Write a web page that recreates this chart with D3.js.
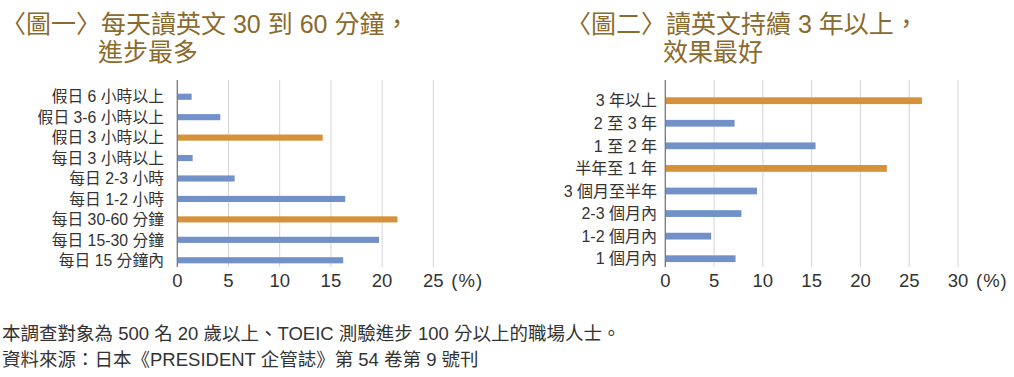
<!DOCTYPE html>
<html><head><meta charset="utf-8">
<script src="https://cdn.jsdelivr.net/npm/d3@7"></script>
<style>
html,body{margin:0;padding:0;background:#fff;}
svg{display:block;}
text{font-family:"Liberation Sans","Noto Sans CJK TC",sans-serif;}
</style></head><body>
<svg id="chart" width="1014" height="377"></svg>
<script>
const title1a = "〈圖一〉每天讀英文 30 到 60 分鐘，";
const title1b = "進步最多";
const cats1 = ["假日 6 小時以上","假日 3-6 小時以上","假日 3 小時以上","每日 3 小時以上","每日 2-3 小時","每日 1-2 小時","每日 30-60 分鐘","每日 15-30 分鐘","每日 15 分鐘內"];
const vals1 = [1.4, 4.2, 14.2, 1.5, 5.6, 16.4, 21.5, 19.7, 16.2];
const hi1 = [0,0,1,0,0,0,1,0,0];
const ticks1 = [0,5,10,15,20,25];

const title2a = "〈圖二〉讀英文持續 3 年以上，";
const title2b = "效果最好";
const cats2 = ["3 年以上","2 至 3 年","1 至 2 年","半年至 1 年","3 個月至半年","2-3 個月內","1-2 個月內","1 個月內"];
const vals2 = [26.3, 7.1, 15.4, 22.7, 9.4, 7.8, 4.7, 7.2];
const hi2 = [1,0,0,1,0,0,0,0];
const ticks2 = [0,5,10,15,20,25,30];

const unitLabel = "(%)";
const note1 = "本調查對象為 500 名 20 歲以上、TOEIC 測驗進步 100 分以上的職場人士。";
const note2 = "資料來源：日本《PRESIDENT 企管誌》第 54 卷第 9 號刊";

const BLUE = "#7191c8", ORANGE = "#d5923b", TITLE = "#8a6a2d", TXT = "#333";
const svg = d3.select("#chart");

function panel(o){
  const g = svg.append("g");
  // title
  const t = g.append("text").attr("fill", TITLE).attr("font-size", 25)
    .attr("font-family", "'Noto Sans CJK TC','Liberation Sans',sans-serif");
  t.append("tspan").attr("x", o.tx).attr("y", 33).text(o.ta);
  t.append("tspan").attr("x", o.tx + 97).attr("y", 61).text(o.tb);

  const x = d3.scaleLinear().domain([0, d3.max(o.ticks)]).range([o.x0, o.x1]);
  const y = d3.scaleBand().domain(o.cats).range([o.y0, o.y1]).paddingInner(0.7).paddingOuter(0.35);

  // gridlines
  g.selectAll("line.grid").data(o.ticks.slice(1)).join("line")
    .attr("x1", d => x(d)).attr("x2", d => x(d)).attr("y1", 80).attr("y2", 267)
    .attr("stroke", "#d4d4d4").attr("stroke-width", 1);
  // bars
  g.selectAll("rect.bar").data(o.vals).join("rect")
    .attr("x", x(0)).attr("y", (d,i) => y(o.cats[i]))
    .attr("width", d => x(d) - x(0)).attr("height", y.bandwidth())
    .attr("fill", (d,i) => o.hi[i] ? ORANGE : BLUE);
  // axis line
  g.append("line").attr("x1", x(0)).attr("x2", x(0)).attr("y1", 80).attr("y2", 267)
    .attr("stroke", "#777").attr("stroke-width", 1.3);
  // category labels
  g.selectAll("text.cat").data(o.cats).join("text")
    .attr("x", o.lx).attr("y", d => y(d) + y.bandwidth()/2).attr("dy", "0.36em")
    .attr("text-anchor", "end").attr("font-size", o.lfs).attr("fill", TXT).text(d => d);
  // tick labels
  g.selectAll("text.tick").data(o.ticks).join("text")
    .attr("x", d => x(d)).attr("y", 287).attr("text-anchor", "middle")
    .attr("font-size", 18.5).attr("fill", TXT).text(d => d);
  g.append("text").attr("x", x(d3.max(o.ticks)) + 18).attr("y", 287)
    .attr("font-size", 18.5).attr("fill", TXT).attr("letter-spacing", 1).text(unitLabel);
}

panel({ta: title1a, tb: title1b, tx: 1, cats: cats1, vals: vals1, hi: hi1, ticks: ticks1,
  x0: 177.3, x1: 433.3, y0: 86.5, y1: 270.5, lx: 164, lfs: 15.8});
panel({ta: title2a, tb: title2b, tx: 566, cats: cats2, vals: vals2, hi: hi2, ticks: ticks2,
  x0: 665.3, x1: 958, y0: 89.4, y1: 270, lx: 657, lfs: 16});

svg.append("text").attr("x", 2).attr("y", 340).attr("font-size", 18.5).attr("fill", TXT).text(note1);
svg.append("text").attr("x", 2).attr("y", 366).attr("font-size", 18.5).attr("fill", TXT).text(note2);
</script>
</body></html>
